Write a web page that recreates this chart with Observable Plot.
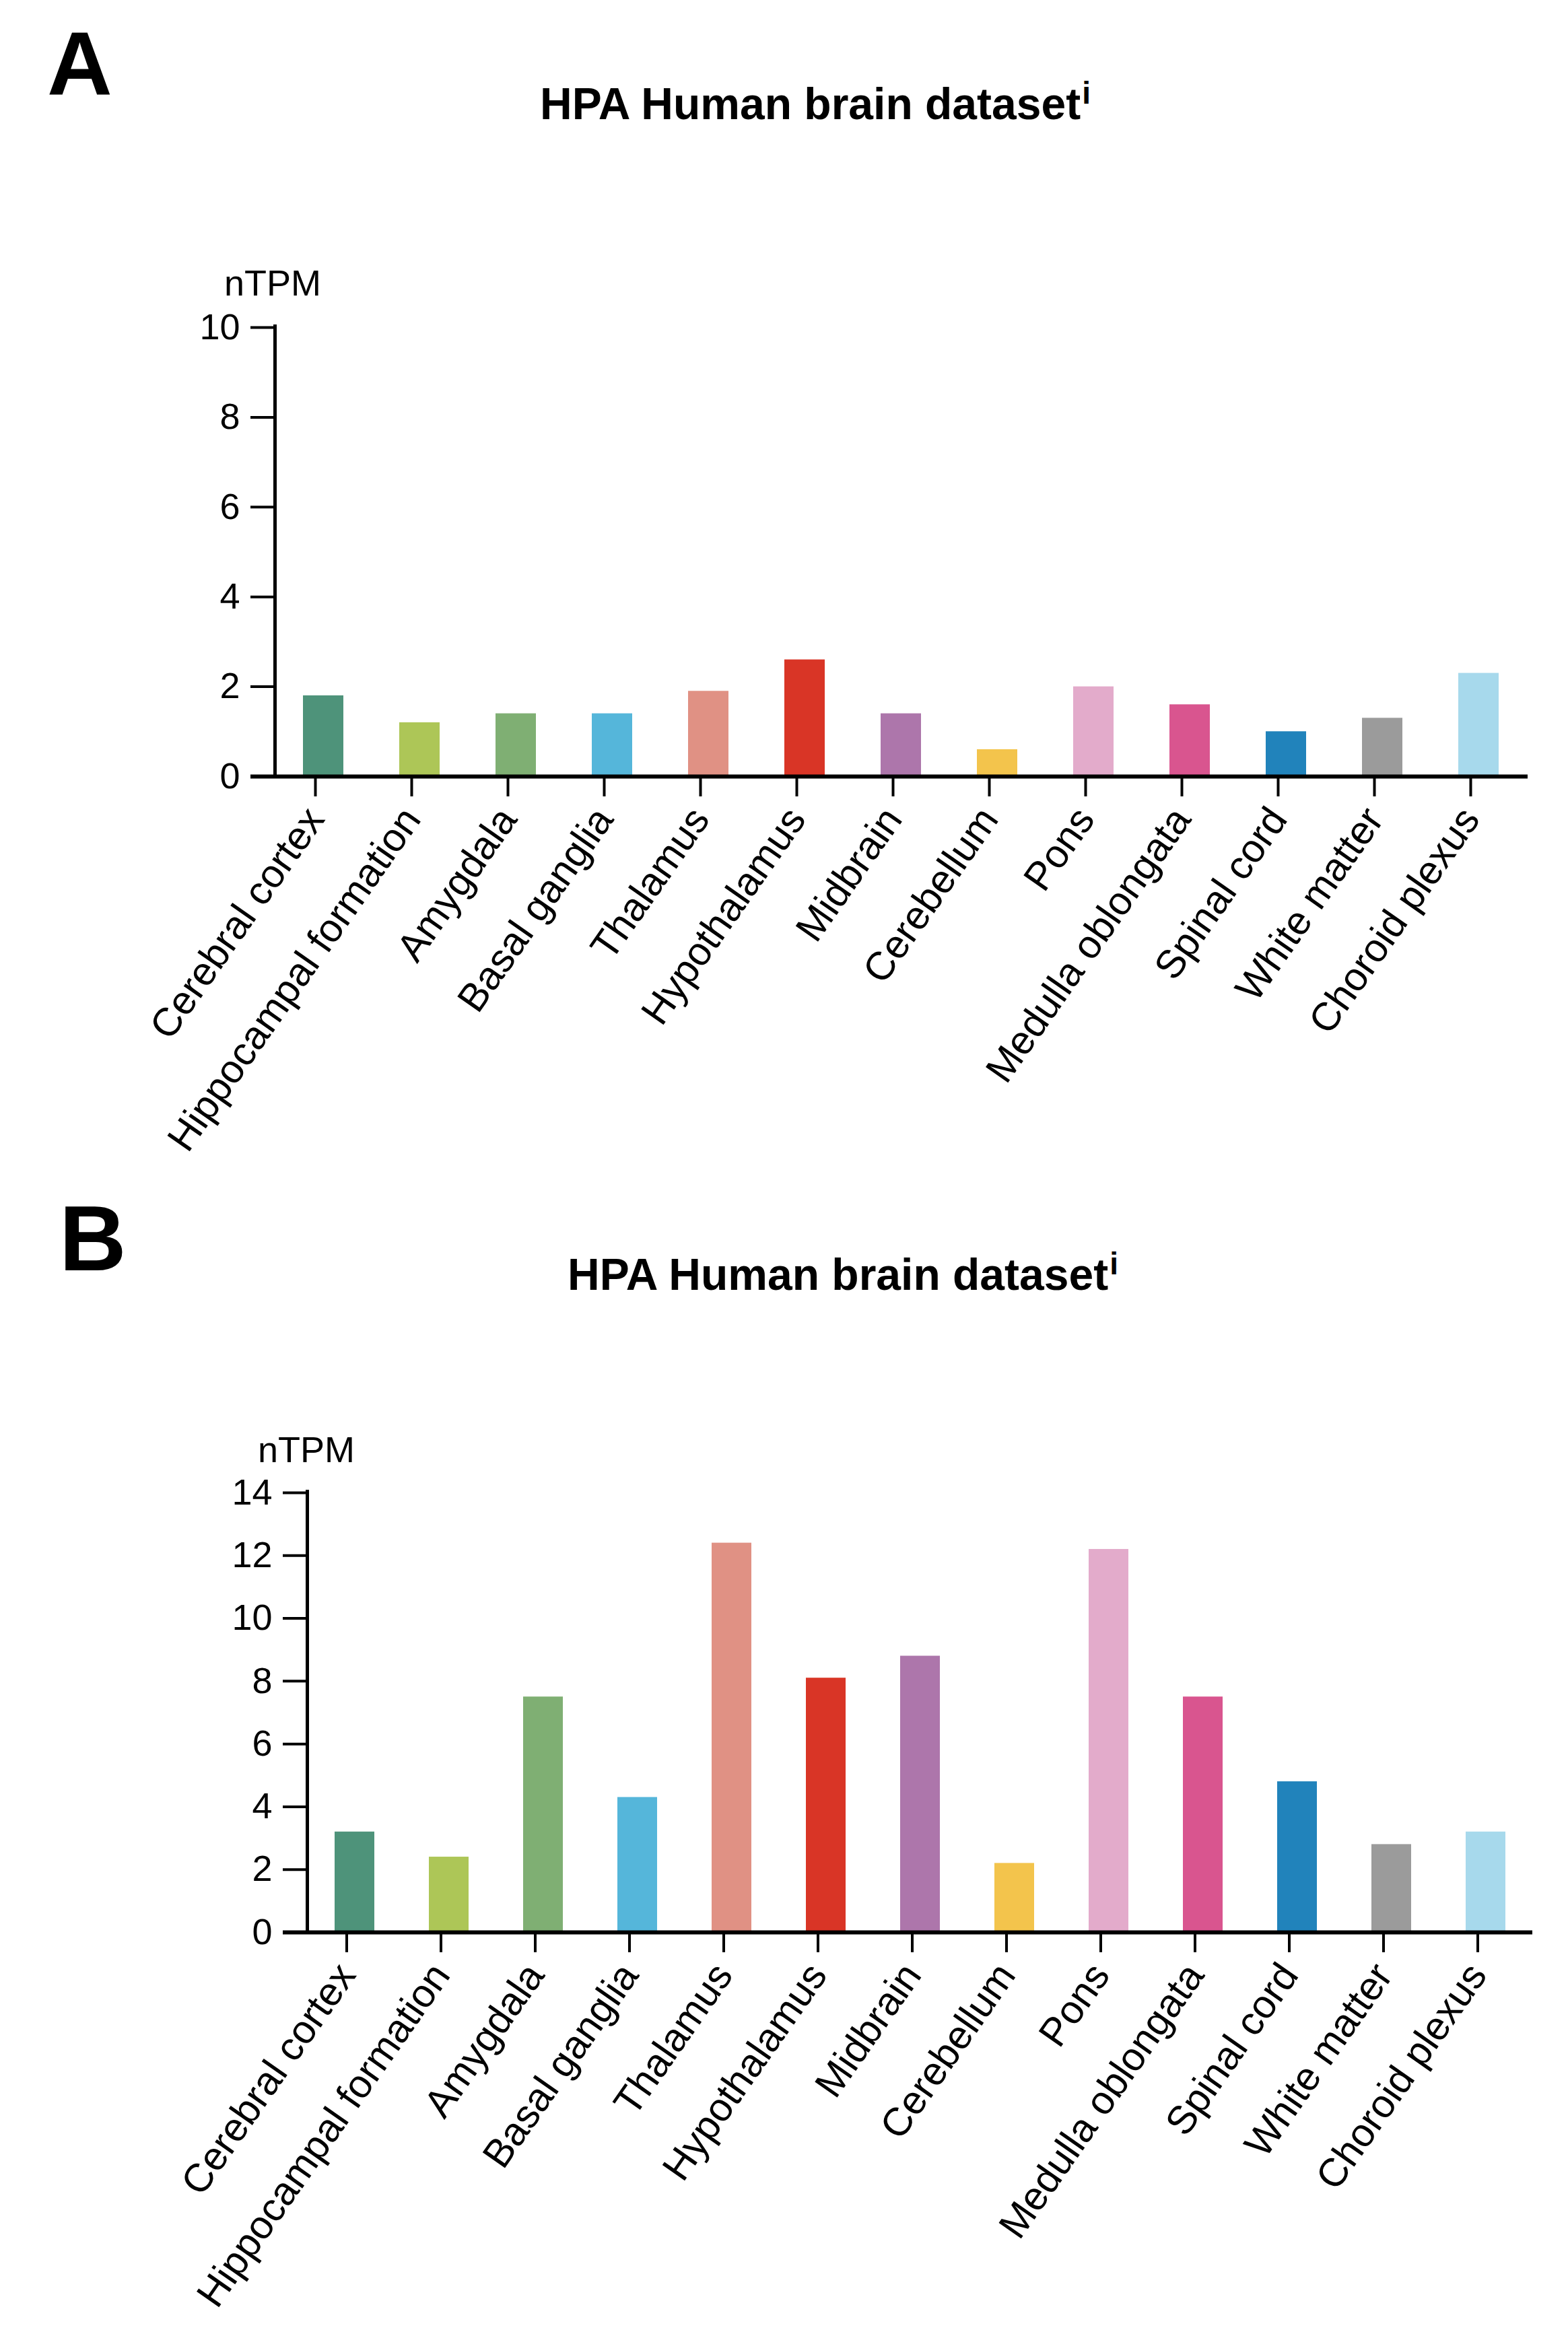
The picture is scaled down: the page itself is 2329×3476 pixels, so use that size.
<!DOCTYPE html>
<html>
<head>
<meta charset="utf-8">
<script src="https://cdn.jsdelivr.net/npm/d3@7"></script>
<script src="https://cdn.jsdelivr.net/npm/@observablehq/plot@0.6"></script>
<style>
  html, body { margin: 0; padding: 0; background: #fff; }
  #page { position: relative; width: 2329px; height: 3476px; background: #fff; overflow: hidden; }
  #page > svg, #page > figure { position: absolute; margin: 0; }
</style>
</head>
<body>
<div id="page"></div>
<script>
// ---- data ----
const categories = [
  "Cerebral cortex", "Hippocampal formation", "Amygdala", "Basal ganglia",
  "Thalamus", "Hypothalamus", "Midbrain", "Cerebellum", "Pons",
  "Medulla oblongata", "Spinal cord", "White matter", "Choroid plexus"
];
const valuesA = [1.8, 1.2, 1.4, 1.4, 1.9, 2.6, 1.4, 0.6, 2.0, 1.6, 1.0, 1.3, 2.3];
const valuesB = [3.2, 2.4, 7.5, 4.3, 12.4, 8.1, 8.8, 2.2, 12.2, 7.5, 4.8, 2.8, 3.2];
const colors = [
  "#4e937a", "#adc657", "#7faf73", "#55b6da", "#e09184", "#d93526", "#ad76ab",
  "#f3c44c", "#e3abcb", "#d9558f", "#2183bb", "#9b9b9b", "#a7d9ec"
];
const ticksA = [0, 2, 4, 6, 8, 10];
const ticksB = [0, 2, 4, 6, 8, 10, 12, 14];
const titleText = "HPA Human brain dataset";
const yLabel = "nTPM";

const FONT = "'Liberation Sans', Arial, Helvetica, sans-serif";
const page = document.getElementById("page");

function chart(values, ticks, g) {
  const data = categories.map((c, i) => ({region: c, value: values[i]}));
  const yMax = ticks[ticks.length - 1];
  return Plot.plot({
    width: 2329,
    height: g.height,
    marginLeft: g.left,
    marginRight: g.right,
    marginTop: g.top,
    marginBottom: g.bottom,
    style: {fontFamily: FONT, color: "#000", background: "transparent", overflow: "visible"},
    x: {domain: categories, paddingInner: 0.58, paddingOuter: 0.29},
    y: {domain: [0, yMax]},
    color: {domain: categories, range: colors},
    marks: [
      Plot.barY(data, {x: "region", y: "value", fill: "region"}),
      Plot.frame({anchor: "left", stroke: "#000", strokeWidth: 5, insetTop: -2}),
      Plot.ruleY([0], {stroke: "#000", strokeWidth: 6, insetLeft: -36}),
      Plot.axisY({ticks, tickSize: 36, tickPadding: 16, strokeWidth: 4, fontSize: 54, label: null, tickFormat: d => String(d)}),
      Plot.axisX({tickSize: 30, tickPadding: 23, dx: -12, tickRotate: -55, strokeWidth: 4, fontSize: 59, label: null})
    ]
  });
}

const svgA = chart(valuesA, ticksA, {height: 1700, left: 408, right: 60, top: 486, bottom: 547});
svgA.style.left = "0px"; svgA.style.top = "0px";
page.appendChild(svgA);

const svgB = chart(valuesB, ticksB, {height: 1726, left: 456, right: 53, top: 467, bottom: 606});
svgB.style.left = "0px"; svgB.style.top = "1750px";
page.appendChild(svgB);

// ---- overlay text ----
const ov = d3.select(page).append("svg")
  .attr("width", 2329).attr("height", 3476)
  .style("left", "0px").style("top", "0px")
  .style("font-family", FONT);

function panelText(letter, lx, ly, lsize, tx, ty, nx, ny) {
  ov.append("text").attr("x", lx).attr("y", ly)
    .attr("font-size", lsize).attr("font-weight", "bold").attr("fill", "#000").text(letter);
  const t = ov.append("text").attr("x", tx).attr("y", ty)
    .attr("font-size", 66).attr("font-weight", "bold").attr("fill", "#000");
  t.append("tspan").text(titleText);
  t.append("tspan").attr("font-size", 46).attr("dx", 2).attr("dy", -23).text("i");
  ov.append("text").attr("x", nx).attr("y", ny)
    .attr("font-size", 54).attr("fill", "#000").text(yLabel);
}
panelText("A", 70, 141, 134, 802, 177, 333, 439);
panelText("B", 88, 1887, 138, 843, 1916, 383, 2172);
</script>
</body>
</html>
